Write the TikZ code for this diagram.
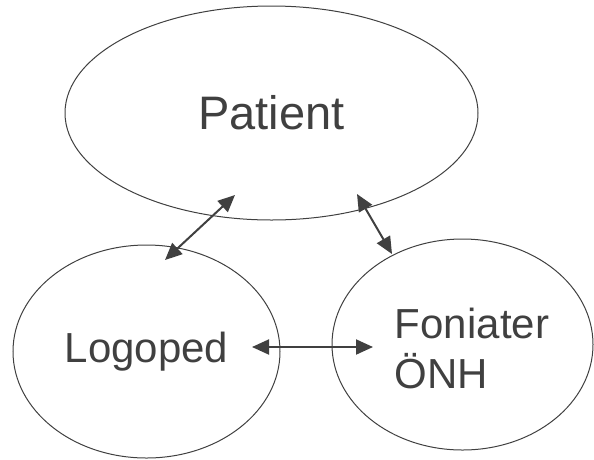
\documentclass[tikz,border=0pt]{standalone}
\usepackage{fontspec}
\setmainfont{Liberation Sans}
\usetikzlibrary{shapes.geometric,arrows.meta,calc}
\definecolor{inkgrey}{RGB}{64,64,64}

\begin{document}
\begin{tikzpicture}[x=1pt,y=1pt]
        \tikzstyle{every node}+=[inner sep=0pt]
        \tikzstyle{blob}=[draw=inkgrey, line width=1pt, ellipse, text=inkgrey]
        \tikzstyle{link}=[inkgrey, line width=2pt, {Triangle[length=17pt,width=15pt]}-{Triangle[length=17pt,width=15pt]}]
        \useasboundingbox (0,0) rectangle (594,-459);
        \node [blob, minimum width=413pt, minimum height=214pt, font=\fontsize{47}{56}\selectfont] (pat) at (271.5,-113) {Patient};
        \node [blob, minimum width=267pt, minimum height=213pt, font=\fontsize{42}{50}\selectfont] (logo) at (146.5,-351.5) {Logoped};
        \node [blob, minimum width=261pt, minimum height=211pt,
               label={[text=inkgrey, align=left, font=\fontsize{42}{50}\selectfont, xshift=9.5pt, yshift=-3.5pt]center:{Foniater\\ÖNH}}] (fon) at (462.5,-344.5) {};
        \coordinate (pl) at ($(pat)+(-36.5,-82)$);
        \coordinate (lp) at ($(logo)+(18.5,91.5)$);
        \coordinate (pf) at ($(pat)+(85.5,-81)$);
        \coordinate (fp) at ($(fon)+(-70.5,90.5)$);
        \coordinate (lf) at ($(logo)+(105.5,4.5)$);
        \coordinate (fl) at ($(fon)+(-89.5,-2.5)$);
        \draw [link] (lp) -- (pl);
        \draw [link] (pf) -- (fp);
        \draw [link] (lf) -- (fl);
\end{tikzpicture}
\end{document}
